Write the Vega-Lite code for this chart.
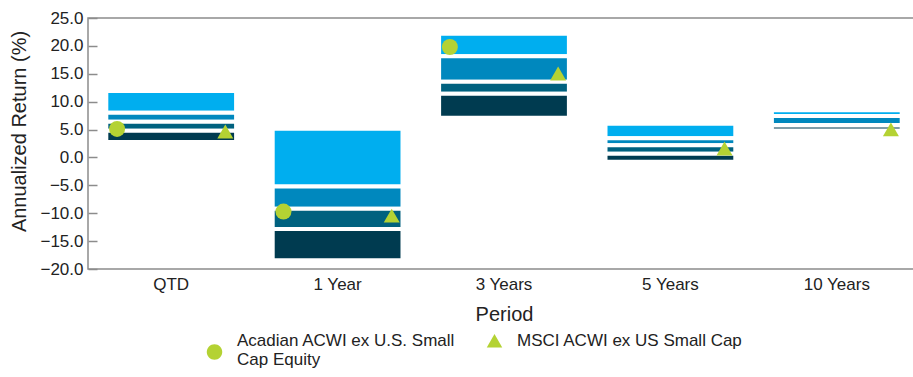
{
  "$schema": "https://vega.github.io/schema/vega-lite/v6.json",
  "autosize": {"type": "none"},
  "padding": {"left": 88, "top": 18, "right": 0, "bottom": 108},
  "width": 832,
  "height": 251,
  "background": "white",
  "config": {
    "view": {"stroke": "#8c8c8c", "strokeWidth": 1.5},
    "font": "Liberation Sans",
    "axis": {"labelFont": "Liberation Sans", "titleFont": "Liberation Sans", "labelColor": "#222222", "titleColor": "#222222", "titleFontWeight": "normal", "domain": false, "tickColor": "#8c8c8c", "grid": false},
    "axisX": {"labelAngle": 0, "labelFontSize": 17, "titleFontSize": 20, "ticks": false, "labelPadding": 7, "titlePadding": 12},
    "axisY": {"labelFontSize": 17, "titleFontSize": 20, "labelOverlap": false, "tickSize": 9, "tickWidth": 1.5, "offset": -9, "labelPadding": 5, "titlePadding": 10, "titleY": 113}
  },
  "datasets": {
    "bands": [
      {"period": "QTD", "quartile": "Q1", "top": 11.92, "bottom": 8.03},
      {"period": "QTD", "quartile": "Q2", "top": 8.03, "bottom": 6.38},
      {"period": "QTD", "quartile": "Q3", "top": 6.38, "bottom": 4.77},
      {"period": "QTD", "quartile": "Q4", "top": 4.77, "bottom": 2.78},
      {"period": "1 Year", "quartile": "Q1", "top": 5.16, "bottom": -5.2},
      {"period": "1 Year", "quartile": "Q2", "top": -5.2, "bottom": -9.21},
      {"period": "1 Year", "quartile": "Q3", "top": -9.21, "bottom": -12.81},
      {"period": "1 Year", "quartile": "Q4", "top": -12.81, "bottom": -18.41},
      {"period": "3 Years", "quartile": "Q1", "top": 22.19, "bottom": 18.15},
      {"period": "3 Years", "quartile": "Q2", "top": 18.15, "bottom": 13.58},
      {"period": "3 Years", "quartile": "Q3", "top": 13.58, "bottom": 11.4},
      {"period": "3 Years", "quartile": "Q4", "top": 11.4, "bottom": 7.13},
      {"period": "5 Years", "quartile": "Q1", "top": 6.06, "bottom": 3.46},
      {"period": "5 Years", "quartile": "Q2", "top": 3.46, "bottom": 2.17},
      {"period": "5 Years", "quartile": "Q3", "top": 2.17, "bottom": 0.68},
      {"period": "5 Years", "quartile": "Q4", "top": 0.68, "bottom": -0.75},
      {"period": "10 Years", "quartile": "Q1", "top": 8.44, "bottom": 7.44},
      {"period": "10 Years", "quartile": "Q2", "top": 7.44, "bottom": 5.82},
      {"period": "10 Years", "quartile": "Q3", "top": 5.82, "bottom": 5.73},
      {"period": "10 Years", "quartile": "Q4", "top": 5.73, "bottom": 4.84}
    ],
    "points": [
      {"period": "QTD", "series": "Acadian ACWI ex U.S. Small Cap Equity", "value": 5.11},
      {"period": "1 Year", "series": "Acadian ACWI ex U.S. Small Cap Equity", "value": -9.71},
      {"period": "3 Years", "series": "Acadian ACWI ex U.S. Small Cap Equity", "value": 19.8},
      {"period": "QTD", "series": "MSCI ACWI ex US Small Cap", "value": 4.66},
      {"period": "1 Year", "series": "MSCI ACWI ex US Small Cap", "value": -10.43},
      {"period": "3 Years", "series": "MSCI ACWI ex US Small Cap", "value": 15.05},
      {"period": "5 Years", "series": "MSCI ACWI ex US Small Cap", "value": 1.61},
      {"period": "10 Years", "series": "MSCI ACWI ex US Small Cap", "value": 5.02}
    ]
  },
  "layer": [
    {
      "data": {"name": "bands"},
      "mark": {"type": "bar", "stroke": "white", "strokeWidth": 4},
      "encoding": {
        "x": {
          "field": "period", "type": "nominal",
          "sort": ["QTD", "1 Year", "3 Years", "5 Years", "10 Years"],
          "scale": {"paddingInner": 0.22, "paddingOuter": 0.11},
          "title": "Period"
        },
        "y": {
          "field": "top", "type": "quantitative",
          "scale": {"domain": [-20, 25], "nice": false, "zero": false},
          "title": "Annualized Return (%)",
          "axis": {"values": [-20, -15, -10, -5, 0, 5, 10, 15, 20, 25], "format": ".1f"}
        },
        "y2": {"field": "bottom"},
        "color": {
          "field": "quartile", "type": "nominal",
          "scale": {"domain": ["Q1", "Q2", "Q3", "Q4"], "range": ["#00AEEF", "#0088BE", "#00617F", "#003B50"]},
          "legend": null
        }
      }
    },
    {
      "data": {"name": "points"},
      "transform": [{"filter": "datum.series == 'Acadian ACWI ex U.S. Small Cap Equity'"}],
      "mark": {"type": "point", "shape": "circle", "filled": true, "opacity": 1, "size": 256, "color": "#B4D233"},
      "encoding": {
        "x": {"field": "period", "type": "nominal", "sort": ["QTD", "1 Year", "3 Years", "5 Years", "10 Years"], "bandPosition": 0.083, "title": "Period"},
        "y": {"field": "value", "type": "quantitative", "title": "Annualized Return (%)",
          "axis": {"values": [-20, -15, -10, -5, 0, 5, 10, 15, 20, 25], "format": ".1f"}}
      }
    },
    {
      "data": {"name": "points"},
      "transform": [{"filter": "datum.series == 'MSCI ACWI ex US Small Cap'"}],
      "mark": {"type": "point", "shape": "triangle-up", "filled": true, "opacity": 1, "size": 256, "color": "#B4D233"},
      "encoding": {
        "x": {"field": "period", "type": "nominal", "sort": ["QTD", "1 Year", "3 Years", "5 Years", "10 Years"], "bandPosition": 0.917, "title": "Period"},
        "y": {"field": "value", "type": "quantitative", "title": "Annualized Return (%)",
          "axis": {"values": [-20, -15, -10, -5, 0, 5, 10, 15, 20, 25], "format": ".1f"}}
      }
    },
    {
      "data": {"name": "points"},
      "mark": {"type": "point", "filled": true, "opacity": 0, "size": 256, "color": "#B4D233"},
      "encoding": {
        "x": {"field": "period", "type": "nominal", "sort": ["QTD", "1 Year", "3 Years", "5 Years", "10 Years"], "title": "Period"},
        "y": {"field": "value", "type": "quantitative", "title": "Annualized Return (%)",
          "axis": {"values": [-20, -15, -10, -5, 0, 5, 10, 15, 20, 25], "format": ".1f"}},
        "shape": {
          "field": "series", "type": "nominal",
          "scale": {"domain": ["Acadian ACWI ex U.S. Small Cap Equity", "MSCI ACWI ex US Small Cap"], "range": ["M -1,1.45 A 1,1 0 1,0 1,1.45 A 1,1 0 1,0 -1,1.45 Z", "triangle-up"]},
          "legend": {
            "title": null, "orient": "none", "direction": "horizontal", "legendX": 118, "legendY": 314,
            "labelFontSize": 17, "labelColor": "#222222", "labelLimit": 400, "labelOffset": 14, "columnPadding": 30,
            "symbolSize": 240, "symbolFillColor": "#B4D233", "symbolStrokeColor": "#C8708A", "symbolStrokeWidth": 0, "symbolOpacity": 1,
            "labelExpr": "datum.label == 'Acadian ACWI ex U.S. Small Cap Equity' ? ['Acadian ACWI ex U.S. Small', 'Cap Equity'] : [datum.label, '']"
          }
        }
      }
    }
  ]
}
